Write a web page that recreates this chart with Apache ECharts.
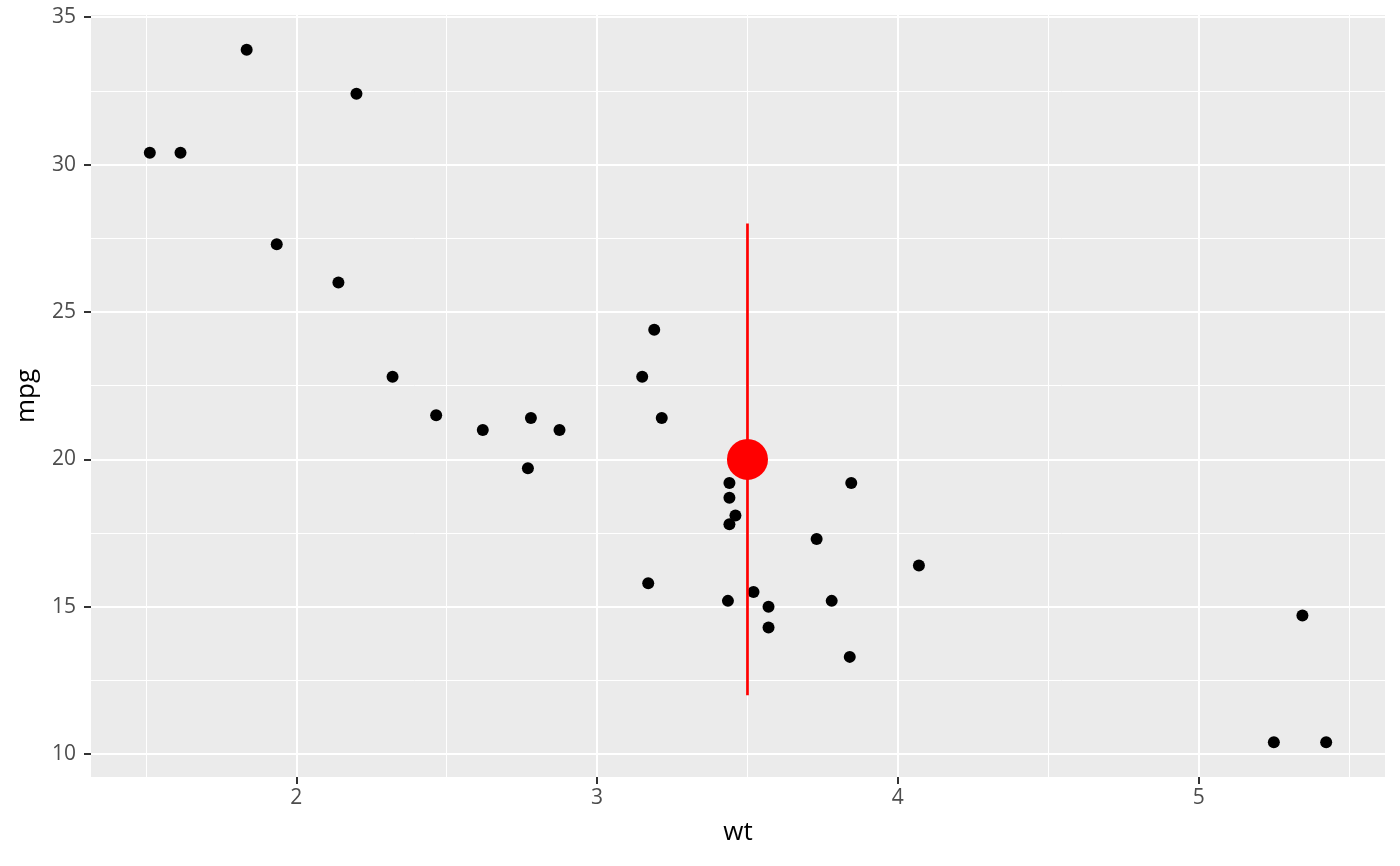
<!DOCTYPE html>
<html>
<head>
<meta charset="utf-8">
<script src="https://cdn.jsdelivr.net/npm/echarts@6/dist/echarts.min.js"></script>
<style>html,body{margin:0;padding:0;background:#fff}#c{width:1400px;height:866px}</style>
</head>
<body>
<div id="c"></div>
<script>
// mtcars: weight (1000 lbs) and miles per gallon
const wt  = [2.620,2.875,2.320,3.215,3.440,3.460,3.570,3.190,3.150,3.440,3.440,4.070,3.730,3.780,5.250,5.424,5.345,2.200,1.615,1.835,2.465,3.520,3.435,3.840,3.845,1.935,2.140,1.513,3.170,2.770,3.570,2.780];
const mpg = [21.0,21.0,22.8,21.4,18.7,18.1,14.3,24.4,22.8,19.2,17.8,16.4,17.3,15.2,10.4,10.4,14.7,32.4,30.4,33.9,21.5,15.5,15.2,13.3,19.2,27.3,26.0,30.4,15.8,19.7,15.0,21.4];
// highlighted point range
const rangeX = [3.5];
const rangeY = [20];
const rangeMin = [12];
const rangeMax = [28];
// ticks
const xMajor = [2,3,4,5];
const xMinor = [1.5,2.5,3.5,4.5,5.5];
const yMajor = [10,15,20,25,30,35];
const yMinor = [12.5,17.5,22.5,27.5,32.5];

const allX = wt.concat(rangeX);
const allY = mpg.concat(rangeMin, rangeMax);
const xr = [Math.min(...allX), Math.max(...allX)];
const yr = [Math.min(...allY), Math.max(...allY)];
const xPad = (xr[1]-xr[0])*0.05, yPad = (yr[1]-yr[0])*0.05;

const pts = wt.map((w,i)=>[w, mpg[i]]);
const gridLines = []
  .concat(xMinor.map(v=>({xAxis:v, lineStyle:{width:1}})))
  .concat(yMinor.map(v=>({yAxis:v, lineStyle:{width:1}})))
  .concat(xMajor.map(v=>({xAxis:v, lineStyle:{width:2}})))
  .concat(yMajor.map(v=>({yAxis:v, lineStyle:{width:2}})));

const FONT = '"Open Sans", sans-serif';
const chart = echarts.init(document.getElementById('c'), null, {renderer:'canvas'});
chart.setOption({
  animation:false,
  backgroundColor:'#ffffff',
  grid:{left:91, right:15, top:15, bottom:89, show:true, backgroundColor:'#EBEBEB', borderWidth:0, containLabel:false},
  xAxis:{
    type:'value', min:xr[0]-xPad, max:xr[1]+xPad,
    name:'wt', nameLocation:'middle', nameGap:43,
    nameTextStyle:{fontFamily:FONT, fontSize:26, color:'#000'},
    axisLine:{show:false},
    axisTick:{show:true, customValues:xMajor, length:7, lineStyle:{color:'#333333', width:2}},
    axisLabel:{customValues:xMajor, fontFamily:FONT, fontSize:21, color:'#4D4D4D', margin:11},
    splitLine:{show:false}
  },
  yAxis:{
    type:'value', min:yr[0]-yPad, max:yr[1]+yPad,
    name:'mpg', nameLocation:'middle', nameGap:51, nameRotate:90,
    nameTextStyle:{fontFamily:FONT, fontSize:26, color:'#000'},
    axisLine:{show:false},
    axisTick:{show:true, customValues:yMajor, length:7, lineStyle:{color:'#333333', width:2}},
    axisLabel:{customValues:yMajor, fontFamily:FONT, fontSize:21, color:'#4D4D4D', margin:15},
    splitLine:{show:false}
  },
  series:[
    {type:'scatter', data:[], silent:true, z:1, zlevel:0,
     markLine:{silent:true, symbol:'none', label:{show:false}, animation:false,
       lineStyle:{color:'#ffffff', type:'solid', opacity:1}, data:gridLines}},
    {type:'scatter', data:pts, symbol:'circle', symbolSize:12, itemStyle:{color:'#000000', opacity:1}, z:3, zlevel:1},
    {type:'line', data:[[rangeX[0], rangeMin[0]],[rangeX[0], rangeMax[0]]], showSymbol:false, symbol:'none',
     lineStyle:{color:'#FF0000', width:2.7, opacity:1}, z:4, zlevel:1},
    {type:'scatter', data:rangeX.map((x,i)=>[x, rangeY[i]]), symbol:'circle', symbolSize:41, itemStyle:{color:'#FF0000', opacity:1}, z:5, zlevel:1}
  ]
});
</script>
</body>
</html>
